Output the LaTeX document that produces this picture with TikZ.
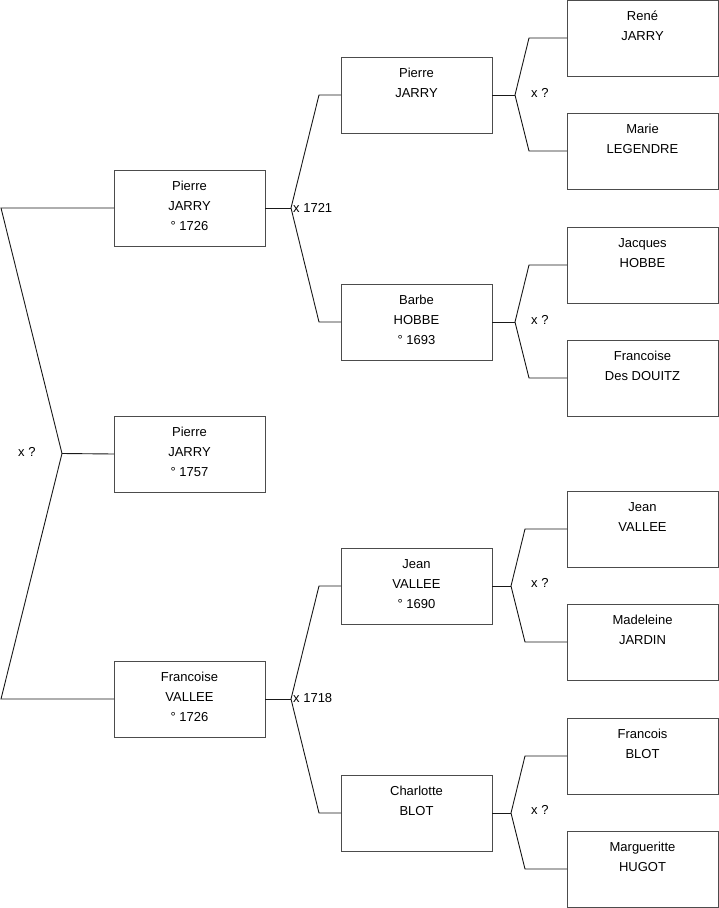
\documentclass[tikz,border=0pt]{standalone}
\usepackage{fontspec}
\setmainfont{Liberation Sans}
\newcommand{\boxtext}[1]{\parbox[t][76pt][t]{151pt}{\centering\fontsize{13}{20}\selectfont\rule{0pt}{20.8pt}#1}}
\tikzset{
  person/.style={draw=black!70, line width=0.9pt, inner sep=0pt, outer sep=0pt, anchor=north west, rectangle},
  link/.style={draw=black!90, line width=0.9pt},
  marr/.style={font=\fontsize{13}{15}\selectfont, inner sep=0pt, anchor=west}
}
\begin{document}
\begin{tikzpicture}[x=1pt,y=-1pt]
\useasboundingbox (0,0) rectangle (719,908);
% column 1
\node[person] (p1) at (114,170) {\boxtext{Pierre\\JARRY\\° 1726}};
\node[person] (p0) at (114,416) {\boxtext{Pierre\\JARRY\\° 1757}};
\node[person] (m1) at (114,661) {\boxtext{Francoise\\VALLEE\\° 1726}};
% column 2
\node[person] (p2) at (341,57) {\boxtext{Pierre\\JARRY}};
\node[person] (m2) at (341,284) {\boxtext{Barbe\\HOBBE\\° 1693}};
\node[person] (p3) at (341,548) {\boxtext{Jean\\VALLEE\\° 1690}};
\node[person] (m3) at (341,775) {\boxtext{Charlotte\\BLOT}};
% column 3
\node[person] (q1) at (567,0) {\boxtext{René\\JARRY}};
\node[person] (q2) at (567,113) {\boxtext{Marie\\LEGENDRE}};
\node[person] (q3) at (567,227) {\boxtext{Jacques\\HOBBE}};
\node[person] (q4) at (567,340) {\boxtext{Francoise\\Des DOUITZ}};
\node[person] (q5) at (567,491) {\boxtext{Jean\\VALLEE}};
\node[person] (q6) at (567,604) {\boxtext{Madeleine\\JARDIN}};
\node[person] (q7) at (567,718) {\boxtext{Francois\\BLOT}};
\node[person] (q8) at (567,831) {\boxtext{Margueritte\\HUGOT}};
% bracket 0
\coordinate (a0) at (62,453.5);
\coordinate (a0t) at (1,208);
\coordinate (a0b) at (1,699);
\draw[link] (p1.west) -- (a0t) -- (a0) -- (a0b) -- (m1.west);
\draw[link] (a0) -- (p0.west);
\node[marr] (l0) at (18,452) {x ?};
% bracket 1
\coordinate (a1) at (291,208);
\coordinate (a1t) at (319,95);
\coordinate (a1b) at (319,322);
\draw[link] (p2.west) -- (a1t) -- (a1) -- (a1b) -- (m2.west);
\draw[link] (a1) -- (p1.east);
\node[marr] (l1) at (293,208) {x 1721};
% bracket 2
\coordinate (a2) at (291,699);
\coordinate (a2t) at (319,586);
\coordinate (a2b) at (319,813);
\draw[link] (p3.west) -- (a2t) -- (a2) -- (a2b) -- (m3.west);
\draw[link] (a2) -- (m1.east);
\node[marr] (l2) at (293,698) {x 1718};
% bracket 3
\coordinate (a3) at (515,95);
\coordinate (a3t) at (529,38);
\coordinate (a3b) at (529,151);
\draw[link] (q1.west) -- (a3t) -- (a3) -- (a3b) -- (q2.west);
\draw[link] (a3) -- (p2.east);
\node[marr] (l3) at (531,93) {x ?};
% bracket 4
\coordinate (a4) at (515,322);
\coordinate (a4t) at (529,265);
\coordinate (a4b) at (529,378);
\draw[link] (q3.west) -- (a4t) -- (a4) -- (a4b) -- (q4.west);
\draw[link] (a4) -- (m2.east);
\node[marr] (l4) at (531,320) {x ?};
% bracket 5
\coordinate (a5) at (511,586);
\coordinate (a5t) at (525,529);
\coordinate (a5b) at (525,642);
\draw[link] (q5.west) -- (a5t) -- (a5) -- (a5b) -- (q6.west);
\draw[link] (a5) -- (p3.east);
\node[marr] (l5) at (531,583) {x ?};
% bracket 6
\coordinate (a6) at (511,813);
\coordinate (a6t) at (525,756);
\coordinate (a6b) at (525,869);
\draw[link] (q7.west) -- (a6t) -- (a6) -- (a6b) -- (q8.west);
\draw[link] (a6) -- (m3.east);
\node[marr] (l6) at (531,810) {x ?};
\end{tikzpicture}
\end{document}
